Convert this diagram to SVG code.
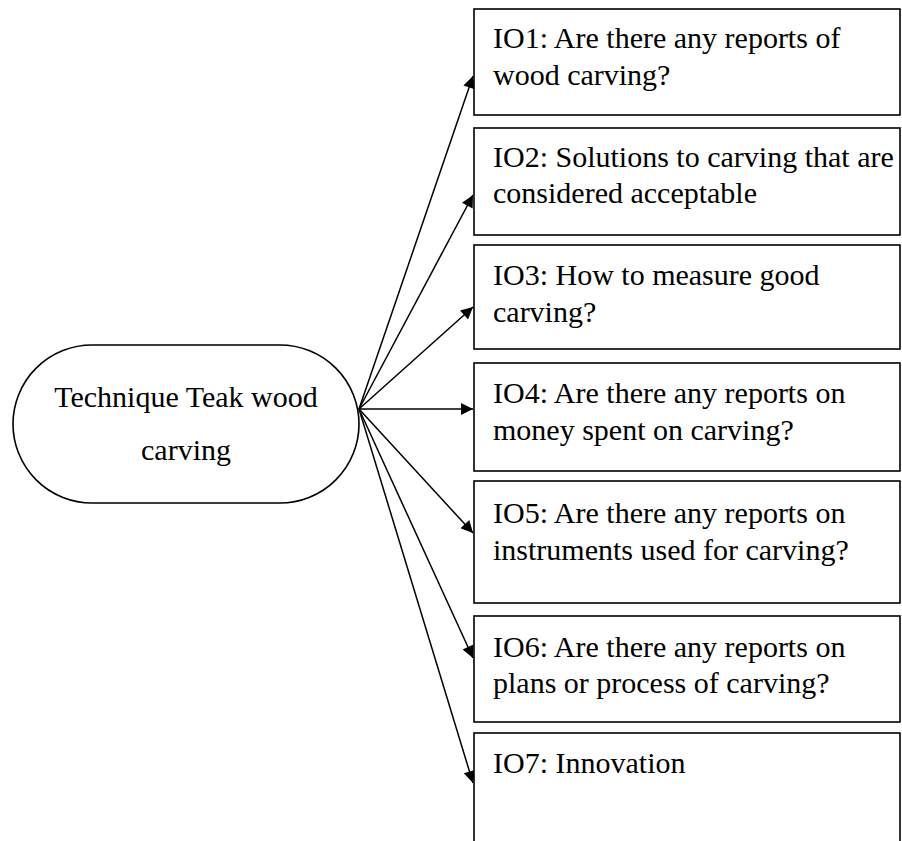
<svg xmlns="http://www.w3.org/2000/svg" width="902" height="841" viewBox="0 0 902 841">
  <defs>
    <marker id="arrow" viewBox="0 0 10 10" refX="10" refY="5" markerWidth="14" markerHeight="12" markerUnits="userSpaceOnUse" orient="auto">
      <path d="M0,0 L10,5 L0,10 z" fill="#000"/>
    </marker>
    <style>
      .box { fill: #fff; stroke: #000; stroke-width: 1.6; }
      .lbl { font-family: "Liberation Serif", "Times New Roman", serif; font-size: 30px; fill: #000; }
      .mid { text-anchor: middle; }
      .edge { stroke: #000; stroke-width: 1.5; fill: none; marker-end: url(#arrow); }
    </style>
  </defs>
  <rect width="902" height="841" fill="#fff"/>

  <!-- central topic -->
  <g id="topic">
    <rect class="box" x="13" y="345" width="346" height="158" rx="79" ry="79"/>
    <text class="lbl mid" x="186" y="407">Technique Teak wood</text>
    <text class="lbl mid" x="186" y="460">carving</text>
  </g>

  <!-- connectors from the topic to each question -->
  <g id="connectors">
    <line class="edge" x1="359" y1="409" x2="473" y2="76"/>
    <line class="edge" x1="359" y1="409" x2="473" y2="195"/>
    <line class="edge" x1="359" y1="409" x2="473" y2="307"/>
    <line class="edge" x1="359" y1="409" x2="473" y2="409"/>
    <line class="edge" x1="359" y1="409" x2="473" y2="533"/>
    <line class="edge" x1="359" y1="409" x2="473" y2="658"/>
    <line class="edge" x1="359" y1="409" x2="473" y2="783"/>
  </g>

  <g id="io1">
    <rect class="box" x="474" y="9" width="426" height="106"/>
    <text class="lbl" x="493" y="48">IO1: Are there any reports of</text>
    <text class="lbl" x="493" y="85">wood carving?</text>
  </g>
  <g id="io2">
    <rect class="box" x="474" y="128" width="426" height="107"/>
    <text class="lbl" x="493" y="167">IO2: Solutions to carving that are</text>
    <text class="lbl" x="493" y="203">considered acceptable</text>
  </g>
  <g id="io3">
    <rect class="box" x="474" y="245" width="426" height="104"/>
    <text class="lbl" x="493" y="285">IO3: How to measure good</text>
    <text class="lbl" x="493" y="322">carving?</text>
  </g>
  <g id="io4">
    <rect class="box" x="474" y="363" width="426" height="108"/>
    <text class="lbl" x="493" y="403">IO4: Are there any reports on</text>
    <text class="lbl" x="493" y="440">money spent on carving?</text>
  </g>
  <g id="io5">
    <rect class="box" x="474" y="481" width="426" height="122"/>
    <text class="lbl" x="493" y="523">IO5: Are there any reports on</text>
    <text class="lbl" x="493" y="560">instruments used for carving?</text>
  </g>
  <g id="io6">
    <rect class="box" x="474" y="616" width="426" height="106"/>
    <text class="lbl" x="493" y="657">IO6: Are there any reports on</text>
    <text class="lbl" x="493" y="693">plans or process of carving?</text>
  </g>
  <g id="io7">
    <rect class="box" x="474" y="733" width="426" height="130"/>
    <text class="lbl" x="493" y="773">IO7: Innovation</text>
  </g>
</svg>
